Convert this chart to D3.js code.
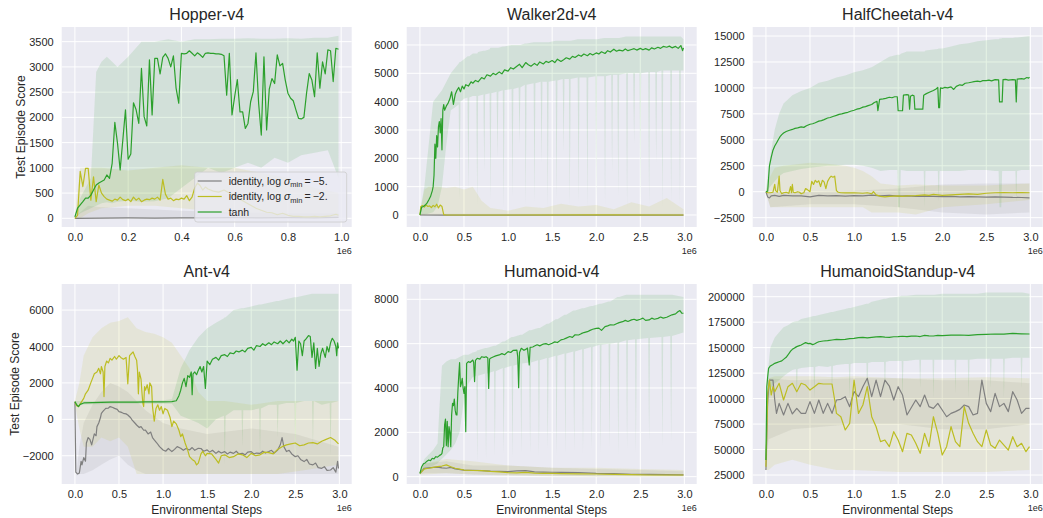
<!DOCTYPE html>
<html>
<head>
<meta charset="utf-8">
<script src="https://cdn.jsdelivr.net/npm/d3@7"></script>
<style>
  body { margin: 0; background: #fff; }
  svg text { font-family: "Liberation Sans", Arial, sans-serif; fill: #262626; }
</style>
</head>
<body>
<div id="chart"></div>
<script>
// ---- data (x in units of 1e6 environment steps) ----
const seriesNames = ["identity, log σmin = −5.", "identity, log σmin = −2.", "tanh"];
const xTicks1M = [0, 0.2, 0.4, 0.6, 0.8, 1.0];
const xTicks3M = [0, 0.5, 1.0, 1.5, 2.0, 2.5, 3.0];

// Hopper-v4
const hopperYTicks = [0, 500, 1000, 1500, 2000, 2500, 3000, 3500];
const hopperGray = [[0,0],[0.1,5],[0.2,8],[0.3,5],[0.4,10],[0.5,8],[0.6,12],[0.7,10],[0.8,15],[0.9,10],[0.99,20]];
const hopperOlive = [[0,0],[0.01,60],[0.02,930],[0.03,630],[0.04,990],[0.05,990],[0.06,360],[0.07,820],[0.08,330],[0.09,660],[0.10,500],[0.11,430],[0.12,380],[0.13,360],[0.14,340],[0.15,380],[0.16,360],[0.17,420],[0.18,370],[0.19,350],[0.20,380],[0.21,330],[0.22,420],[0.23,360],[0.24,400],[0.25,330],[0.26,360],[0.27,380],[0.28,370],[0.29,400],[0.30,380],[0.31,420],[0.32,360],[0.33,770],[0.34,480],[0.35,380],[0.36,400],[0.37,350],[0.38,380],[0.39,370],[0.40,400],[0.41,380],[0.42,450],[0.43,350],[0.44,420],[0.45,600],[0.46,700],[0.47,650],[0.48,560],[0.49,620],[0.50,580],[0.52,540],[0.54,520],[0.56,560],[0.58,500],[0.60,430],[0.62,380],[0.64,320],[0.66,260],[0.68,200],[0.70,160],[0.72,120],[0.74,110],[0.76,70],[0.78,100],[0.80,60],[0.82,40],[0.84,40],[0.86,30],[0.88,30],[0.90,40],[0.92,30],[0.94,40],[0.96,50],[0.98,80],[0.99,60]];
const hopperGreen = [[0,30],[0.01,200],[0.02,265],[0.03,330],[0.04,400],[0.05,400],[0.06,460],[0.07,560],[0.08,660],[0.09,700],[0.10,730],[0.11,760],[0.12,860],[0.13,790],[0.14,1090],[0.15,1900],[0.16,1490],[0.17,960],[0.18,1550],[0.19,2150],[0.20,1170],[0.21,1275],[0.22,2290],[0.23,2150],[0.24,1880],[0.25,2970],[0.26,2015],[0.27,1830],[0.28,3140],[0.29,2050],[0.30,3170],[0.31,3170],[0.32,2860],[0.33,3190],[0.34,3260],[0.35,3170],[0.36,3000],[0.37,3220],[0.38,2580],[0.39,2280],[0.40,3270],[0.41,3260],[0.42,3270],[0.43,3320],[0.44,3270],[0.45,3220],[0.46,3280],[0.47,3240],[0.48,3190],[0.49,3270],[0.50,3280],[0.51,3270],[0.52,3270],[0.53,3260],[0.54,3260],[0.55,3250],[0.56,3220],[0.57,2440],[0.58,3270],[0.59,2050],[0.60,2410],[0.61,2750],[0.62,2110],[0.63,2110],[0.64,1780],[0.65,1880],[0.66,2310],[0.67,2510],[0.68,3280],[0.69,2280],[0.70,1650],[0.71,3200],[0.72,1750],[0.73,2560],[0.74,2770],[0.75,2670],[0.76,3240],[0.77,3020],[0.78,3070],[0.79,2740],[0.80,2480],[0.81,2380],[0.82,2330],[0.83,2150],[0.84,1980],[0.85,1970],[0.86,2000],[0.87,2480],[0.88,2870],[0.89,2740],[0.90,2410],[0.91,3280],[0.92,2580],[0.93,3100],[0.94,2860],[0.95,3340],[0.96,3320],[0.97,2710],[0.98,3370],[0.99,3350]];
const hopperGrayBand = [[0,0,30],[0.05,0,250],[0.1,0,220],[0.2,0,200],[0.4,0,150],[0.6,0,120],[0.8,0,100],[0.99,0,100]];
const hopperOliveBand = [[0,0,50],[0.02,0,1000],[0.05,100,1000],[0.1,200,1000],[0.2,250,950],[0.3,250,1000],[0.4,200,1050],[0.5,150,1000],[0.6,50,1000],[0.7,0,900],[0.8,0,800],[0.9,0,600],[0.99,0,500]];
const hopperGreenBand = [[0,0,60],[0.02,100,400],[0.04,150,600],[0.06,200,800],[0.08,250,2900],[0.1,300,3100],[0.12,320,3200],[0.14,300,3100],[0.16,330,3000],[0.2,350,3200],[0.25,330,3500],[0.3,340,3500],[0.35,400,3550],[0.4,600,3500],[0.45,800,3550],[0.5,1000,3550],[0.55,900,3560],[0.6,1000,3560],[0.65,1100,3570],[0.7,1000,3560],[0.75,1200,3560],[0.8,1100,3570],[0.85,1250,3560],[0.9,1300,3580],[0.95,1350,3580],[0.99,800,3620]];

// Walker2d-v4
const walkerYTicks = [0, 1000, 2000, 3000, 4000, 5000, 6000];
const walkerGray = [[0,0],[0.3,-5],[1,-5],[2,-5],[2.99,-5]];
const walkerOlive = [[0,0],[0.01,300],[0.03,330],[0.05,280],[0.07,350],[0.09,300],[0.11,320],[0.13,260],[0.15,340],[0.17,290],[0.19,380],[0.21,250],[0.23,350],[0.25,300],[0.26,150],[0.27,10],[0.3,0],[1.0,0],[2.0,5],[2.99,0]];
const walkerGreen = [[0,0],[0.02,280],[0.04,300],[0.06,350],[0.08,420],[0.1,530],[0.12,650],[0.14,850],[0.15,1000],[0.16,1400],[0.17,2500],[0.18,2000],[0.19,2800],[0.2,2400],[0.21,3100],[0.22,3300],[0.23,2900],[0.24,3400],[0.25,2300],[0.26,3700],[0.27,3900],[0.28,3700],[0.3,3850],[0.32,3950],[0.34,4100],[0.36,4350],[0.38,3900],[0.4,4250],[0.42,4400],[0.44,4500],[0.46,4350],[0.48,4550],[0.5,4450],[0.52,4600],[0.55,4550],[0.58,4700],[0.6,4650],[0.63,4750],[0.66,4700],[0.7,4850],[0.73,4800],[0.76,4950],[0.8,4900],[0.83,5000],[0.86,4950],[0.9,5050],[0.93,4980],[0.96,5120],[1.0,5080],[1.03,5200],[1.06,5150],[1.1,5250],[1.13,5320],[1.16,5200],[1.2,5380],[1.23,5300],[1.26,5250],[1.3,5350],[1.33,5280],[1.36,5400],[1.4,5330],[1.43,5420],[1.46,5380],[1.5,5450],[1.53,5380],[1.56,5500],[1.6,5420],[1.63,5480],[1.66,5550],[1.7,5500],[1.73,5600],[1.76,5560],[1.8,5650],[1.83,5600],[1.86,5680],[1.9,5620],[1.93,5700],[1.96,5650],[2.0,5720],[2.03,5680],[2.06,5760],[2.1,5700],[2.13,5800],[2.16,5750],[2.2,5850],[2.23,5780],[2.26,5820],[2.3,5790],[2.33,5860],[2.36,5800],[2.4,5840],[2.43,5870],[2.46,5820],[2.5,5880],[2.53,5830],[2.56,5870],[2.6,5820],[2.63,5900],[2.66,5860],[2.7,5920],[2.73,5880],[2.76,5950],[2.8,5920],[2.83,5960],[2.86,5900],[2.9,5950],[2.93,5880],[2.96,5980],[2.98,5800],[2.99,5900]];
const walkerGrayBand = [[0,-40,40],[2.99,-40,40]];
const walkerOliveBand = [[0,0,50],[0.05,0,900],[0.1,0,1000],[0.2,0,1000],[0.3,0,950],[0.4,0,1000],[0.5,0,900],[0.6,0,1000],[0.7,0,500],[0.8,0,250],[0.9,0,200],[1.0,0,150],[1.2,0,300],[1.4,0,250],[1.6,0,400],[1.8,0,300],[2.0,0,350],[2.2,0,200],[2.4,0,450],[2.6,0,300],[2.8,0,600],[2.99,0,200]];
const walkerGreenBand = [[0,0,100],[0.05,0,1000],[0.1,50,2500],[0.15,100,4000],[0.2,300,4200],[0.25,1000,4400],[0.3,2500,4700],[0.35,3700,5000],[0.4,3800,5200],[0.44,3900,5350],[0.45,500,5400],[0.46,4000,5400],[0.5,4100,5500],[0.54,4150,5600],[0.55,800,5600],[0.56,4150,5600],[0.6,4200,5700],[0.64,4200,5700],[0.65,300,5700],[0.66,4200,5750],[0.72,4250,5800],[0.73,1500,5800],[0.74,4250,5800],[0.79,4300,5850],[0.8,500,5900],[0.81,4300,5900],[0.87,4350,5900],[0.88,2000,5900],[0.89,4350,5900],[0.94,4400,5950],[0.95,200,5950],[0.96,4400,5950],[1.04,4450,6000],[1.05,600,6000],[1.06,4450,6000],[1.12,4500,6000],[1.13,2500,6000],[1.14,4500,6000],[1.19,4600,6050],[1.2,300,6050],[1.21,4600,6050],[1.29,4650,6100],[1.3,400,6100],[1.31,4650,6100],[1.37,4700,6100],[1.38,1800,6100],[1.39,4700,6100],[1.44,4700,6100],[1.45,200,6100],[1.46,4700,6100],[1.54,4750,6150],[1.55,500,6150],[1.56,4750,6150],[1.62,4800,6150],[1.63,2200,6150],[1.64,4800,6150],[1.69,4800,6150],[1.7,300,6150],[1.71,4800,6150],[1.79,4850,6200],[1.8,400,6200],[1.81,4850,6200],[1.89,4850,6200],[1.9,200,6200],[1.91,4850,6200],[1.99,4900,6200],[2.0,500,6200],[2.01,4900,6200],[2.09,4900,6250],[2.1,300,6250],[2.11,4900,6250],[2.17,4950,6250],[2.18,1500,6250],[2.19,4950,6250],[2.24,4950,6250],[2.25,600,6250],[2.26,4950,6250],[2.34,5000,6300],[2.35,200,6300],[2.36,5000,6300],[2.42,5000,6300],[2.43,2500,6300],[2.44,5000,6300],[2.49,5000,6300],[2.5,400,6300],[2.51,5000,6300],[2.59,5050,6300],[2.6,300,6300],[2.61,5050,6300],[2.67,5050,6300],[2.68,1800,6300],[2.69,5050,6300],[2.74,5100,6300],[2.75,200,6300],[2.76,5100,6300],[2.84,5100,6300],[2.85,400,6300],[2.86,5100,6300],[2.94,5100,6300],[2.95,300,6300],[2.96,5100,6300],[2.99,5100,6200]];

// HalfCheetah-v4
const cheetahYTicks = [-2500, 0, 2500, 5000, 7500, 10000, 12500, 15000];
const cheetahGray = [[0,0],[0.02,-500],[0.04,-600],[0.06,-400],[0.1,-350],[0.15,-450],[0.2,-350],[0.3,-400],[0.4,-400],[0.5,-500],[0.6,-350],[0.7,-400],[0.8,-380],[0.9,-420],[1.0,-380],[1.1,-400],[1.2,-330],[1.3,-400],[1.4,-350],[1.5,-420],[1.6,-400],[1.7,-450],[1.8,-420],[1.9,-450],[2.0,-480],[2.1,-450],[2.2,-500],[2.3,-480],[2.4,-500],[2.5,-520],[2.6,-500],[2.7,-520],[2.8,-550],[2.9,-560],[2.99,-600]];
const cheetahOlive = [[0,0],[0.02,-100],[0.05,-100],[0.08,-50],[0.1,700],[0.11,100],[0.13,-50],[0.15,1500],[0.16,100],[0.18,-200],[0.2,-100],[0.23,-50],[0.26,-150],[0.28,500],[0.29,-100],[0.3,700],[0.31,-50],[0.33,-100],[0.36,0],[0.38,-50],[0.4,-200],[0.43,-100],[0.45,300],[0.47,200],[0.5,0],[0.52,1000],[0.54,700],[0.56,1100],[0.58,900],[0.6,1050],[0.62,500],[0.64,1100],[0.66,950],[0.68,300],[0.7,1000],[0.72,1300],[0.74,1500],[0.76,1400],[0.78,1500],[0.8,100],[0.82,-50],[0.85,-100],[0.9,-120],[1.0,-100],[1.1,-150],[1.15,-100],[1.2,-200],[1.22,0],[1.25,-300],[1.3,-450],[1.35,-500],[1.4,-450],[1.5,-400],[1.55,-450],[1.6,-400],[1.7,-380],[1.8,-300],[1.85,-350],[1.9,-250],[2.0,-350],[2.1,-300],[2.2,-250],[2.3,-200],[2.4,-250],[2.5,-150],[2.6,-100],[2.7,-80],[2.8,-100],[2.9,-80],[2.99,-100]];
const cheetahGreen = [[0,0],[0.02,50],[0.04,2500],[0.06,3300],[0.08,4000],[0.1,4400],[0.12,4700],[0.14,5000],[0.16,5300],[0.18,5500],[0.2,5650],[0.23,5800],[0.26,5900],[0.3,6000],[0.33,6100],[0.36,6150],[0.4,6250],[0.43,6200],[0.46,6350],[0.5,6500],[0.53,6550],[0.56,6650],[0.6,6800],[0.63,6850],[0.66,6950],[0.7,7100],[0.73,7150],[0.76,7250],[0.8,7350],[0.83,7450],[0.86,7500],[0.9,7600],[0.93,7650],[0.96,7750],[1.0,7850],[1.03,7950],[1.06,8000],[1.1,8150],[1.13,8200],[1.16,8300],[1.2,8400],[1.23,8600],[1.26,8700],[1.27,7800],[1.29,8900],[1.33,8950],[1.36,9000],[1.4,9100],[1.43,9050],[1.46,9150],[1.49,9150],[1.5,7800],[1.55,7800],[1.56,9300],[1.6,9350],[1.62,9300],[1.63,7950],[1.64,9200],[1.66,9300],[1.68,9250],[1.69,7950],[1.78,7950],[1.79,9300],[1.82,9450],[1.86,9600],[1.9,9750],[1.93,9900],[1.95,10050],[1.96,8100],[1.97,8100],[1.98,10000],[2.0,9950],[2.03,10050],[2.06,10000],[2.1,10100],[2.13,9850],[2.16,10150],[2.2,10300],[2.23,10250],[2.26,10450],[2.3,10500],[2.33,10550],[2.36,10600],[2.4,10650],[2.43,10600],[2.46,10700],[2.5,10700],[2.53,10750],[2.56,10680],[2.6,10800],[2.64,10780],[2.65,8650],[2.68,8650],[2.69,10800],[2.72,10820],[2.75,10750],[2.8,10800],[2.83,10780],[2.84,8650],[2.85,10850],[2.9,10900],[2.93,10850],[2.96,11000],[2.98,10950],[2.99,11050]];
const cheetahGrayBand = [[0,-100,100],[0.05,-1500,0],[0.5,-1200,0],[1.0,-1200,100],[1.5,-1500,300],[2.0,-2000,700],[2.5,-2200,800],[2.99,-2000,800]];
const cheetahOliveBand = [[0,-100,100],[0.05,-1500,1500],[0.1,-1500,2300],[0.2,-1500,2500],[0.3,-1500,2600],[0.5,-1500,2800],[0.7,-1500,2700],[0.9,-1500,2500],[1.0,-1500,2300],[1.1,-1500,2000],[1.2,-2000,1500],[1.3,-2000,800],[1.5,-2000,600],[1.7,-2200,700],[2.0,-1500,600],[2.5,-1200,600],[2.99,-800,800]];
const cheetahGreenBand = [[0,0,100],[0.05,500,3500],[0.1,1000,6000],[0.15,1500,7500],[0.2,1800,8500],[0.3,2000,9300],[0.4,2200,9700],[0.5,2300,10000],[0.6,2400,10500],[0.7,2500,10700],[0.8,2500,11000],[0.9,2600,11200],[1.0,2600,11500],[1.1,2500,11700],[1.2,2300,12000],[1.3,2000,12500],[1.4,2100,13000],[1.49,2100,13200],[1.5,-1500,13200],[1.52,-1500,13200],[1.53,2100,13300],[1.6,2000,13500],[1.7,2000,13500],[1.79,2000,13500],[1.8,-1500,13500],[1.81,2000,13600],[1.9,2000,13700],[1.95,2000,13750],[1.96,-1000,13800],[1.97,2000,13800],[2.0,2000,13800],[2.1,2000,14000],[2.2,2000,14200],[2.3,2100,14300],[2.4,2100,14500],[2.5,2100,14600],[2.6,2000,14700],[2.64,2000,14700],[2.65,-1500,14750],[2.67,-1500,14750],[2.68,2000,14800],[2.8,2000,14800],[2.83,2000,14850],[2.84,-1000,14850],[2.85,2000,14850],[2.9,2100,14900],[2.99,2100,15000]];

// Ant-v4
const antYTicks = [-2000, 0, 2000, 4000, 6000];
const antGray = [[0,970],[0.01,-2900],[0.03,-3000],[0.05,-2950],[0.07,-2300],[0.08,-2500],[0.1,-2100],[0.12,-2300],[0.13,-1300],[0.15,-1000],[0.17,-1100],[0.19,-1400],[0.2,-1200],[0.22,-800],[0.24,-900],[0.25,-400],[0.27,-200],[0.29,100],[0.3,330],[0.32,450],[0.35,600],[0.38,620],[0.4,700],[0.43,650],[0.45,600],[0.48,550],[0.5,420],[0.53,380],[0.55,330],[0.58,300],[0.6,240],[0.63,100],[0.65,-40],[0.68,-200],[0.7,-310],[0.73,-450],[0.75,-400],[0.78,-600],[0.8,-590],[0.83,-800],[0.86,-700],[0.88,-1000],[0.9,-1130],[0.93,-1300],[0.96,-1500],[1.0,-1680],[1.03,-1750],[1.06,-1600],[1.1,-1770],[1.13,-1650],[1.16,-1500],[1.2,-1590],[1.23,-1700],[1.26,-1600],[1.3,-1680],[1.33,-1550],[1.36,-1700],[1.4,-1590],[1.43,-1600],[1.46,-1750],[1.5,-1680],[1.53,-1800],[1.56,-1700],[1.6,-1870],[1.63,-1750],[1.66,-1850],[1.7,-1770],[1.73,-1900],[1.76,-1800],[1.8,-1870],[1.83,-1750],[1.86,-1900],[1.9,-1870],[1.93,-1950],[1.96,-1800],[2.0,-1770],[2.03,-1900],[2.06,-1850],[2.1,-1870],[2.13,-1750],[2.16,-1850],[2.2,-1770],[2.23,-1700],[2.26,-1850],[2.3,-1680],[2.33,-1400],[2.35,-1000],[2.37,-1500],[2.4,-1770],[2.43,-1700],[2.46,-1900],[2.5,-2050],[2.53,-2000],[2.56,-2200],[2.6,-2320],[2.63,-2200],[2.66,-2450],[2.7,-2500],[2.73,-2400],[2.76,-2650],[2.8,-2690],[2.83,-2600],[2.86,-2800],[2.9,-2780],[2.93,-2650],[2.96,-2900],[2.98,-2300],[2.99,-2700]];
const antOlive = [[0,970],[0.02,750],[0.04,700],[0.06,850],[0.08,1000],[0.1,1150],[0.12,1400],[0.15,1600],[0.18,2000],[0.2,2250],[0.22,2500],[0.25,2600],[0.27,2800],[0.29,2500],[0.3,2900],[0.32,2600],[0.33,1250],[0.34,2900],[0.36,3200],[0.38,3100],[0.4,3350],[0.42,3250],[0.45,3450],[0.47,3300],[0.5,3500],[0.52,3400],[0.55,3300],[0.58,3400],[0.6,1950],[0.62,3500],[0.64,3600],[0.66,3700],[0.68,3450],[0.7,3250],[0.71,2700],[0.72,1400],[0.73,2600],[0.75,2200],[0.76,1500],[0.77,900],[0.78,700],[0.79,1800],[0.8,1600],[0.82,1900],[0.84,1400],[0.85,2000],[0.87,1800],[0.88,700],[0.9,-100],[0.92,600],[0.94,800],[0.96,500],[0.98,700],[1.0,300],[1.02,600],[1.05,500],[1.08,100],[1.1,-400],[1.12,-100],[1.15,-250],[1.18,-600],[1.2,-950],[1.22,-800],[1.25,-1300],[1.28,-1700],[1.3,-2050],[1.33,-2200],[1.36,-2300],[1.38,-2500],[1.4,-2400],[1.43,-1900],[1.45,-1750],[1.48,-2000],[1.5,-1870],[1.55,-1900],[1.6,-2200],[1.63,-2400],[1.66,-2000],[1.7,-1950],[1.75,-2100],[1.8,-2050],[1.85,-1900],[1.9,-1950],[1.95,-2100],[2.0,-1870],[2.05,-2000],[2.1,-1950],[2.15,-1800],[2.2,-1830],[2.25,-1900],[2.3,-1650],[2.35,-1500],[2.4,-1400],[2.45,-1350],[2.5,-1300],[2.55,-1450],[2.6,-1400],[2.65,-1300],[2.7,-1280],[2.75,-1350],[2.8,-1200],[2.85,-1100],[2.9,-1000],[2.95,-1150],[2.99,-1350]];
const antGreen = [[0,970],[0.02,800],[0.04,700],[0.06,820],[0.1,900],[0.2,920],[0.3,930],[0.4,940],[0.5,940],[0.6,950],[0.7,950],[0.8,955],[0.9,960],[1.0,960],[1.1,970],[1.15,1020],[1.18,1300],[1.2,1600],[1.22,2000],[1.24,2250],[1.26,1800],[1.28,2400],[1.3,2300],[1.32,2600],[1.33,1350],[1.34,2500],[1.36,2600],[1.38,2450],[1.4,2700],[1.42,2900],[1.44,2600],[1.46,2900],[1.48,1700],[1.5,3200],[1.53,3000],[1.56,3300],[1.6,3400],[1.63,3250],[1.66,3500],[1.7,3550],[1.73,3450],[1.76,3650],[1.8,3600],[1.83,3750],[1.86,3700],[1.9,3800],[1.93,3700],[1.96,3900],[2.0,3950],[2.03,3800],[2.06,4050],[2.1,4000],[2.13,4150],[2.16,4050],[2.2,4200],[2.23,4100],[2.26,4250],[2.3,4150],[2.33,4300],[2.36,4150],[2.4,4350],[2.43,4200],[2.46,4400],[2.48,4300],[2.5,4500],[2.52,2700],[2.54,4300],[2.56,4150],[2.58,3500],[2.6,4300],[2.62,4400],[2.65,4600],[2.67,4550],[2.69,3400],[2.71,4200],[2.73,2800],[2.75,3900],[2.77,2900],[2.79,3600],[2.81,3900],[2.84,3400],[2.86,4000],[2.88,3700],[2.9,4200],[2.92,4450],[2.94,4300],[2.96,4000],[2.97,3500],[2.98,4200],[2.99,3900]];
const antGrayBand = [[0,800,1000],[0.02,-3100,-2800],[0.05,-3000,-1500],[0.1,-3000,-200],[0.2,-2800,800],[0.3,-2500,1500],[0.4,-2200,2000],[0.5,-2000,1800],[0.6,-2500,1500],[0.7,-2800,1000],[0.8,-3000,500],[1.0,-3000,-200],[1.2,-3000,-500],[1.5,-3000,-800],[2.0,-3000,-500],[2.5,-3000,-800],[2.99,-3000,-1500]];
const antOliveBand = [[0,800,1000],[0.05,-500,2000],[0.1,-1500,3500],[0.2,-1500,4500],[0.3,-1000,5000],[0.4,-1200,5300],[0.5,-1000,5400],[0.6,-1500,5600],[0.7,-3000,5000],[0.8,-3000,4800],[0.9,-3000,4700],[1.0,-3000,4500],[1.1,-3000,4200],[1.2,-3000,3500],[1.3,-3000,2800],[1.4,-3000,1500],[1.5,-3000,1000],[1.7,-3000,1000],[2.0,-3000,800],[2.3,-3000,1000],[2.6,-2800,1000],[2.99,-2500,1000]];
const antGreenBand = [[0,800,1000],[0.5,850,1000],[1.0,850,1050],[1.1,850,1100],[1.2,200,2800],[1.3,0,3800],[1.4,-200,4500],[1.5,-500,5000],[1.6,0,5300],[1.69,200,5550],[1.7,-2500,5600],[1.71,200,5600],[1.8,500,6000],[1.89,500,6100],[1.9,-1500,6100],[1.91,500,6100],[2.0,500,6200],[2.09,600,6300],[2.1,-2000,6300],[2.11,600,6300],[2.2,800,6400],[2.29,800,6500],[2.3,-1000,6500],[2.31,800,6500],[2.4,900,6600],[2.49,900,6700],[2.5,-2500,6700],[2.51,900,6700],[2.6,1000,6800],[2.69,1000,6900],[2.7,-1500,6900],[2.71,1000,6900],[2.8,800,6900],[2.89,900,6900],[2.9,-2000,6900],[2.91,900,6900],[2.99,1000,6900]];

// Humanoid-v4
const humanoidYTicks = [0, 2000, 4000, 6000, 8000];
const humanoidGray = [[0,150],[0.05,380],[0.1,400],[0.15,420],[0.2,430],[0.25,400],[0.3,380],[0.35,420],[0.4,350],[0.5,300],[0.6,290],[0.7,270],[0.8,250],[0.9,240],[1.0,230],[1.1,260],[1.2,270],[1.3,220],[1.4,210],[1.5,200],[1.6,190],[1.8,180],[2.0,150],[2.2,140],[2.4,110],[2.6,100],[2.8,90],[2.99,80]];
const humanoidOlive = [[0,150],[0.05,350],[0.1,380],[0.15,420],[0.2,450],[0.25,480],[0.3,530],[0.35,450],[0.4,380],[0.45,340],[0.5,300],[0.6,280],[0.7,270],[0.8,240],[0.9,220],[1.0,180],[1.1,170],[1.2,190],[1.3,160],[1.4,150],[1.5,150],[1.6,140],[1.8,130],[2.0,120],[2.2,100],[2.4,90],[2.6,75],[2.8,75],[2.99,75]];
const humanoidGreen = [[0,150],[0.02,450],[0.04,580],[0.06,620],[0.08,700],[0.1,750],[0.12,720],[0.14,830],[0.16,800],[0.18,900],[0.2,880],[0.22,950],[0.24,1000],[0.25,1050],[0.26,1300],[0.27,1350],[0.28,2330],[0.29,2600],[0.3,1400],[0.31,2500],[0.32,1350],[0.33,2260],[0.34,2000],[0.35,1350],[0.36,2800],[0.37,3310],[0.38,3200],[0.39,3500],[0.4,3000],[0.41,2800],[0.42,2780],[0.43,3800],[0.44,4500],[0.45,5140],[0.46,4060],[0.47,4200],[0.48,4440],[0.49,4000],[0.5,3760],[0.51,4060],[0.52,2030],[0.53,5110],[0.55,5190],[0.57,5150],[0.6,5260],[0.61,5150],[0.62,4290],[0.63,5250],[0.65,5340],[0.68,5300],[0.7,5410],[0.73,5380],[0.75,5410],[0.77,5350],[0.78,3980],[0.79,5300],[0.8,5340],[0.83,5400],[0.86,5450],[0.9,5490],[0.93,5550],[0.96,5500],[1.0,5640],[1.03,5600],[1.06,5700],[1.1,5710],[1.11,5400],[1.12,4010],[1.13,5600],[1.15,5790],[1.18,5700],[1.2,5740],[1.22,5800],[1.24,5040],[1.25,5830],[1.28,5850],[1.3,5890],[1.33,5950],[1.36,5900],[1.4,5980],[1.43,6000],[1.46,5950],[1.5,6020],[1.53,6080],[1.56,6050],[1.6,6170],[1.63,6200],[1.66,6250],[1.7,6320],[1.73,6280],[1.76,6400],[1.8,6390],[1.83,6450],[1.86,6500],[1.9,6540],[1.93,6600],[1.96,6650],[2.0,6690],[2.03,6700],[2.06,6600],[2.1,6770],[2.13,6800],[2.16,6850],[2.2,6840],[2.23,6900],[2.26,6950],[2.3,6990],[2.33,7050],[2.36,7000],[2.4,7070],[2.43,7100],[2.46,7050],[2.5,7100],[2.53,7150],[2.56,7050],[2.6,7070],[2.63,7150],[2.66,7100],[2.7,7140],[2.73,7200],[2.76,7150],[2.8,7190],[2.83,7250],[2.86,7300],[2.9,7340],[2.93,7450],[2.95,7490],[2.97,7380],[2.99,7370]];
const humanoidGrayBand = [[0,100,200],[0.05,150,600],[0.3,150,700],[0.6,100,500],[1.0,80,500],[1.5,50,400],[2.0,20,350],[2.5,20,300],[2.99,20,250]];
const humanoidOliveBand = [[0,100,200],[0.05,100,600],[0.3,150,800],[0.6,100,700],[1.0,50,500],[1.5,20,400],[2.0,0,400],[2.5,0,350],[2.99,0,300]];
const humanoidGreenBand = [[0,100,200],[0.05,300,800],[0.1,400,1000],[0.15,500,1200],[0.2,600,1500],[0.22,700,3000],[0.25,800,5000],[0.3,1000,5200],[0.35,1200,5300],[0.4,1500,5300],[0.45,2000,5400],[0.5,3500,5500],[0.55,4200,5500],[0.6,4500,5600],[0.64,4550,5650],[0.65,600,5700],[0.66,4550,5700],[0.74,4650,5800],[0.75,700,5800],[0.76,4650,5800],[0.84,4750,5900],[0.85,900,5900],[0.86,4750,5900],[0.94,4900,6100],[0.95,1000,6100],[0.96,4900,6100],[1.04,5000,6300],[1.05,800,6300],[1.06,5000,6300],[1.14,5100,6400],[1.15,1000,6400],[1.16,5100,6400],[1.24,5150,6600],[1.25,1000,6600],[1.26,5150,6600],[1.34,5250,6700],[1.35,900,6700],[1.36,5250,6700],[1.44,5350,6900],[1.45,1200,6900],[1.46,5350,6900],[1.54,5450,7100],[1.55,900,7100],[1.56,5450,7100],[1.64,5550,7300],[1.65,1000,7300],[1.66,5550,7300],[1.74,5650,7500],[1.75,1100,7500],[1.76,5650,7500],[1.84,5750,7600],[1.85,1000,7600],[1.86,5750,7600],[1.94,5850,7700],[1.95,1200,7700],[1.96,5850,7700],[2.04,5950,7800],[2.05,1000,7800],[2.06,5950,7800],[2.14,6000,7900],[2.15,1300,7900],[2.16,6000,7900],[2.24,6050,8100],[2.25,900,8100],[2.26,6050,8100],[2.34,6150,8200],[2.35,1200,8200],[2.36,6150,8200],[2.44,6200,8200],[2.45,1000,8200],[2.46,6200,8200],[2.59,6250,8200],[2.6,1500,8200],[2.61,6250,8200],[2.74,6300,8200],[2.75,1300,8200],[2.76,6300,8200],[2.84,6350,8200],[2.85,1500,8200],[2.86,6350,8200],[2.99,6500,8100]];

// HumanoidStandup-v4
const standupYTicks = [25000, 50000, 75000, 100000, 125000, 150000, 175000, 200000];
const standupGray = [[0,29900],[0.02,98600],[0.04,118200],[0.08,118200],[0.1,98600],[0.12,85500],[0.15,95300],[0.2,83900],[0.25,95300],[0.3,84900],[0.35,90400],[0.4,85500],[0.45,85500],[0.5,97000],[0.55,85500],[0.6,98600],[0.65,85500],[0.7,95300],[0.75,85500],[0.8,98600],[0.85,99300],[0.9,101900],[0.95,92100],[1.0,106800],[1.05,101900],[1.1,111700],[1.15,119900],[1.2,101900],[1.25,118200],[1.3,101900],[1.35,118200],[1.4,112300],[1.45,98600],[1.5,111700],[1.55,103500],[1.6,83900],[1.7,98600],[1.75,92100],[1.8,103500],[1.85,92100],[1.9,90400],[1.95,95300],[2.0,88800],[2.05,82200],[2.1,85500],[2.15,87200],[2.2,89400],[2.25,93700],[2.3,92100],[2.35,83900],[2.4,85500],[2.45,118200],[2.5,95300],[2.55,87200],[2.6,105100],[2.65,92100],[2.7,95300],[2.75,87200],[2.8,106800],[2.85,98600],[2.9,85500],[2.95,90400],[2.99,90400]];
const standupOlive = [[0,33200],[0.02,105100],[0.04,118200],[0.06,103500],[0.08,111700],[0.1,106800],[0.15,115000],[0.2,98600],[0.25,111700],[0.3,115000],[0.35,106800],[0.4,115000],[0.45,113300],[0.5,108400],[0.55,111700],[0.6,115000],[0.65,114300],[0.7,114300],[0.75,114300],[0.78,98600],[0.8,85500],[0.85,82200],[0.9,69200],[0.95,75700],[1.0,118200],[1.05,85500],[1.1,93700],[1.15,111700],[1.2,82200],[1.25,72400],[1.3,57700],[1.35,59300],[1.4,52800],[1.45,67500],[1.5,59300],[1.55,47900],[1.6,65900],[1.65,64300],[1.7,56100],[1.75,46300],[1.8,65900],[1.85,52800],[1.9,82200],[1.95,65900],[2.0,44600],[2.05,52800],[2.1,72400],[2.15,57700],[2.2,52800],[2.25,92100],[2.3,75700],[2.35,65900],[2.4,57700],[2.45,52800],[2.5,69200],[2.55,54400],[2.6,51200],[2.65,59300],[2.7,54400],[2.75,49500],[2.8,62600],[2.85,52800],[2.9,56100],[2.95,47900],[2.99,52800]];
const standupGreen = [[0,39700],[0.01,111700],[0.02,121500],[0.03,129700],[0.05,132000],[0.08,133500],[0.1,134600],[0.13,135500],[0.15,136200],[0.18,137000],[0.2,138500],[0.23,140500],[0.25,142800],[0.28,146500],[0.3,148300],[0.33,150000],[0.35,151000],[0.38,152000],[0.4,152600],[0.43,154000],[0.45,154900],[0.48,154000],[0.5,154200],[0.53,153000],[0.55,153600],[0.58,155000],[0.6,155800],[0.65,156500],[0.7,156800],[0.75,157500],[0.8,158100],[0.85,157800],[0.9,158100],[0.95,158800],[1.0,159100],[1.05,159800],[1.1,160100],[1.15,159500],[1.2,160100],[1.25,160500],[1.3,160800],[1.35,160300],[1.4,160100],[1.45,160700],[1.5,160800],[1.55,161200],[1.6,160800],[1.65,161300],[1.7,161400],[1.75,160900],[1.8,162100],[1.85,161500],[1.9,161400],[1.95,162000],[2.0,161700],[2.1,162200],[2.2,162400],[2.3,162000],[2.4,162700],[2.5,163000],[2.6,163400],[2.7,163200],[2.8,164000],[2.9,163600],[2.99,163400]];
const standupGrayBand = [[0,28000,35000],[0.03,60000,120000],[0.3,70000,118000],[1.0,75000,120000],[1.5,75000,120000],[2.0,70000,118000],[2.5,70000,118000],[2.99,75000,115000]];
const standupOliveBand = [[0,30000,40000],[0.03,30000,120000],[0.1,35000,122000],[0.3,40000,122000],[0.5,35000,122000],[0.8,30000,121000],[1.0,30000,122000],[1.5,28000,120000],[2.0,28000,120000],[2.5,28000,121000],[2.99,30000,120000]];
const standupGreenBand = [[0,30000,45000],[0.02,90000,125000],[0.05,110000,150000],[0.1,115000,160000],[0.15,118000,165000],[0.2,122000,170000],[0.25,125000,172000],[0.3,128000,175000],[0.34,129000,176000],[0.35,100000,176000],[0.36,129000,176000],[0.4,130000,178000],[0.5,131000,180000],[0.54,131000,181000],[0.55,100000,181000],[0.56,131000,181000],[0.6,132000,182000],[0.7,131000,184000],[0.74,132000,185000],[0.75,105000,185000],[0.76,132000,185000],[0.8,133000,186000],[0.9,134000,188000],[0.94,134000,189000],[0.95,100000,189000],[0.96,134000,189000],[1.0,135000,190000],[1.1,135000,192000],[1.14,135000,193000],[1.15,95000,193000],[1.16,135000,193000],[1.2,136000,195000],[1.3,136000,197000],[1.34,136000,198000],[1.35,105000,198000],[1.36,136000,198000],[1.4,137000,199000],[1.5,137000,200000],[1.54,137000,201000],[1.55,100000,201000],[1.56,137000,201000],[1.6,137000,201000],[1.7,138000,202000],[1.74,138000,202000],[1.75,110000,202000],[1.76,138000,202000],[1.8,138000,202000],[1.89,138000,202000],[1.9,100000,202000],[1.91,138000,202000],[2.0,138000,203000],[2.1,138000,203000],[2.14,138000,203000],[2.15,105000,203000],[2.16,138000,203000],[2.2,138000,203000],[2.29,138000,203000],[2.3,100000,203000],[2.31,138000,203000],[2.4,139000,203000],[2.5,139000,204000],[2.54,139000,204000],[2.55,110000,204000],[2.56,139000,204000],[2.6,139000,204000],[2.69,139000,204000],[2.7,100000,204000],[2.71,139000,204000],[2.8,140000,204000],[2.89,140000,204000],[2.9,110000,204000],[2.91,140000,204000],[2.99,140000,203000]];

// ---- layout ----
const width = 1043, height = 518;
const colLeft = [61.7, 406.7, 752.7], rowTop = [27, 284];
const plotW = 290, plotH = 200;
const colors = ["#7f7f7f", "#bcbd22", "#2ca02c"];

const panels = [
  { title: "Hopper-v4", col: 0, row: 0, xDomain: [-0.0495, 1.0395], yDomain: [-172, 3791], xTicks: xTicks1M, yTicks: hopperYTicks,
    lines: [hopperGray, hopperOlive, hopperGreen], bands: [hopperGrayBand, hopperOliveBand, hopperGreenBand], legend: true },
  { title: "Walker2d-v4", col: 1, row: 0, xDomain: [-0.15, 3.14], yDomain: [-424, 6635], xTicks: xTicks3M, yTicks: walkerYTicks,
    lines: [walkerGray, walkerOlive, walkerGreen], bands: [walkerGrayBand, walkerOliveBand, walkerGreenBand] },
  { title: "HalfCheetah-v4", col: 2, row: 0, xDomain: [-0.15, 3.14], yDomain: [-3400, 15870], xTicks: xTicks3M, yTicks: cheetahYTicks,
    lines: [cheetahGray, cheetahOlive, cheetahGreen], bands: [cheetahGrayBand, cheetahOliveBand, cheetahGreenBand] },
  { title: "Ant-v4", col: 0, row: 1, xDomain: [-0.15, 3.14], yDomain: [-3550, 7430], xTicks: xTicks3M, yTicks: antYTicks,
    lines: [antGray, antOlive, antGreen], bands: [antGrayBand, antOliveBand, antGreenBand] },
  { title: "Humanoid-v4", col: 1, row: 1, xDomain: [-0.15, 3.14], yDomain: [-330, 8690], xTicks: xTicks3M, yTicks: humanoidYTicks,
    lines: [humanoidGray, humanoidOlive, humanoidGreen], bands: [humanoidGrayBand, humanoidOliveBand, humanoidGreenBand] },
  { title: "HumanoidStandup-v4", col: 2, row: 1, xDomain: [-0.15, 3.14], yDomain: [16170, 212460], xTicks: xTicks3M, yTicks: standupYTicks,
    lines: [standupGray, standupOlive, standupGreen], bands: [standupGrayBand, standupOliveBand, standupGreenBand] }
];

const svg = d3.select("#chart").append("svg")
  .attr("width", width)
  .attr("height", height);

panels.forEach((p, i) => {
  let left = colLeft[p.col], top = rowTop[p.row];
  let x = d3.scaleLinear().domain(p.xDomain).range([0, plotW]);
  let y = d3.scaleLinear().domain(p.yDomain).range([plotH, 0]);

  let g = svg.append("g").attr("transform", "translate(" + left + "," + top + ")");

  g.append("clipPath").attr("id", "clip" + i)
    .append("rect").attr("width", plotW).attr("height", plotH);

  // background
  g.append("rect").attr("width", plotW).attr("height", plotH).attr("fill", "#eaeaf2");

  // grid
  g.append("g").selectAll("line").data(p.xTicks).join("line")
    .attr("x1", d => x(d)).attr("x2", d => x(d))
    .attr("y1", 0).attr("y2", plotH)
    .attr("stroke", "#fff").attr("stroke-width", 1);
  g.append("g").selectAll("line").data(p.yTicks).join("line")
    .attr("y1", d => y(d)).attr("y2", d => y(d))
    .attr("x1", 0).attr("x2", plotW)
    .attr("stroke", "#fff").attr("stroke-width", 1);

  let plot = g.append("g").attr("clip-path", "url(#clip" + i + ")");

  // confidence bands
  let area = d3.area().x(d => x(d[0])).y0(d => y(d[1])).y1(d => y(d[2]));
  p.bands.forEach((b, k) => {
    plot.append("path").datum(b).attr("d", area)
      .attr("fill", colors[k]).attr("fill-opacity", 0.12).attr("stroke", "none");
  });

  // mean lines
  let line = d3.line().x(d => x(d[0])).y(d => y(d[1]));
  p.lines.forEach((l, k) => {
    plot.append("path").datum(l).attr("d", line)
      .attr("fill", "none").attr("stroke", colors[k]).attr("stroke-width", 1.2)
      .attr("stroke-linejoin", "round");
  });

  // x axis
  let xAxis = g.append("g").attr("transform", "translate(0," + plotH + ")")
    .call(d3.axisBottom(x).tickValues(p.xTicks).tickFormat(d3.format(".1f")).tickSize(0).tickPadding(6));
  xAxis.select(".domain").remove();
  xAxis.selectAll("text").style("font-size", "11px").attr("fill", "#262626");

  // y axis
  let yAxis = g.append("g")
    .call(d3.axisLeft(y).tickValues(p.yTicks).tickFormat(d3.format("d")).tickSize(0).tickPadding(8));
  yAxis.select(".domain").remove();
  yAxis.selectAll("text").style("font-size", "11px").attr("fill", "#262626");

  // offset label
  g.append("text")
    .attr("x", plotW).attr("y", plotH + 26.5)
    .attr("text-anchor", "end")
    .style("font-size", "9px")
    .text("1e6");

  // title
  g.append("text")
    .attr("x", plotW / 2).attr("y", -7)
    .attr("text-anchor", "middle")
    .style("font-size", "16px")
    .text(p.title);

  // axis labels
  if (p.row === 1) {
    g.append("text")
      .attr("x", plotW / 2).attr("y", plotH + 30)
      .attr("text-anchor", "middle")
      .style("font-size", "12px")
      .text("Environmental Steps");
  }
  if (p.col === 0) {
    let bb = yAxis.node().getBBox();
    g.append("text")
      .attr("transform", "translate(" + (bb.x - 4) + "," + (plotH / 2) + ")rotate(-90)")
      .attr("text-anchor", "middle")
      .style("font-size", "12px")
      .text("Test Episode Score");
  }

  // legend
  if (p.legend) {
    let lw = 152, lh = 50;
    let lg = g.append("g").attr("transform", "translate(" + (plotW - 5 - lw) + "," + (plotH - 5 - lh) + ")");
    lg.append("rect").attr("width", lw).attr("height", lh).attr("rx", 2.5)
      .attr("fill", "#eaeaf2").attr("fill-opacity", 0.8)
      .attr("stroke", "#cccccc").attr("stroke-width", 0.8);
    seriesNames.forEach((name, k) => {
      let cy = 9 + k * 15.5;
      lg.append("line").attr("x1", 3).attr("x2", 27).attr("y1", cy).attr("y2", cy)
        .attr("stroke", colors[k]).attr("stroke-width", 1.2);
      let t = lg.append("text").attr("x", 34).attr("y", cy + 3.8).style("font-size", "10.5px");
      if (k < 2) {
        let parts = name.split("σmin");
        t.append("tspan").text(parts[0]);
        t.append("tspan").style("font-style", "italic").text("σ");
        t.append("tspan").attr("dy", 2.5).style("font-size", "7.5px").text("min");
        t.append("tspan").attr("dy", -2.5).text(parts[1].replace(" = ", "\u2009=\u2009"));
      } else {
        t.text(name);
      }
    });
  }
});
</script>
</body>
</html>
